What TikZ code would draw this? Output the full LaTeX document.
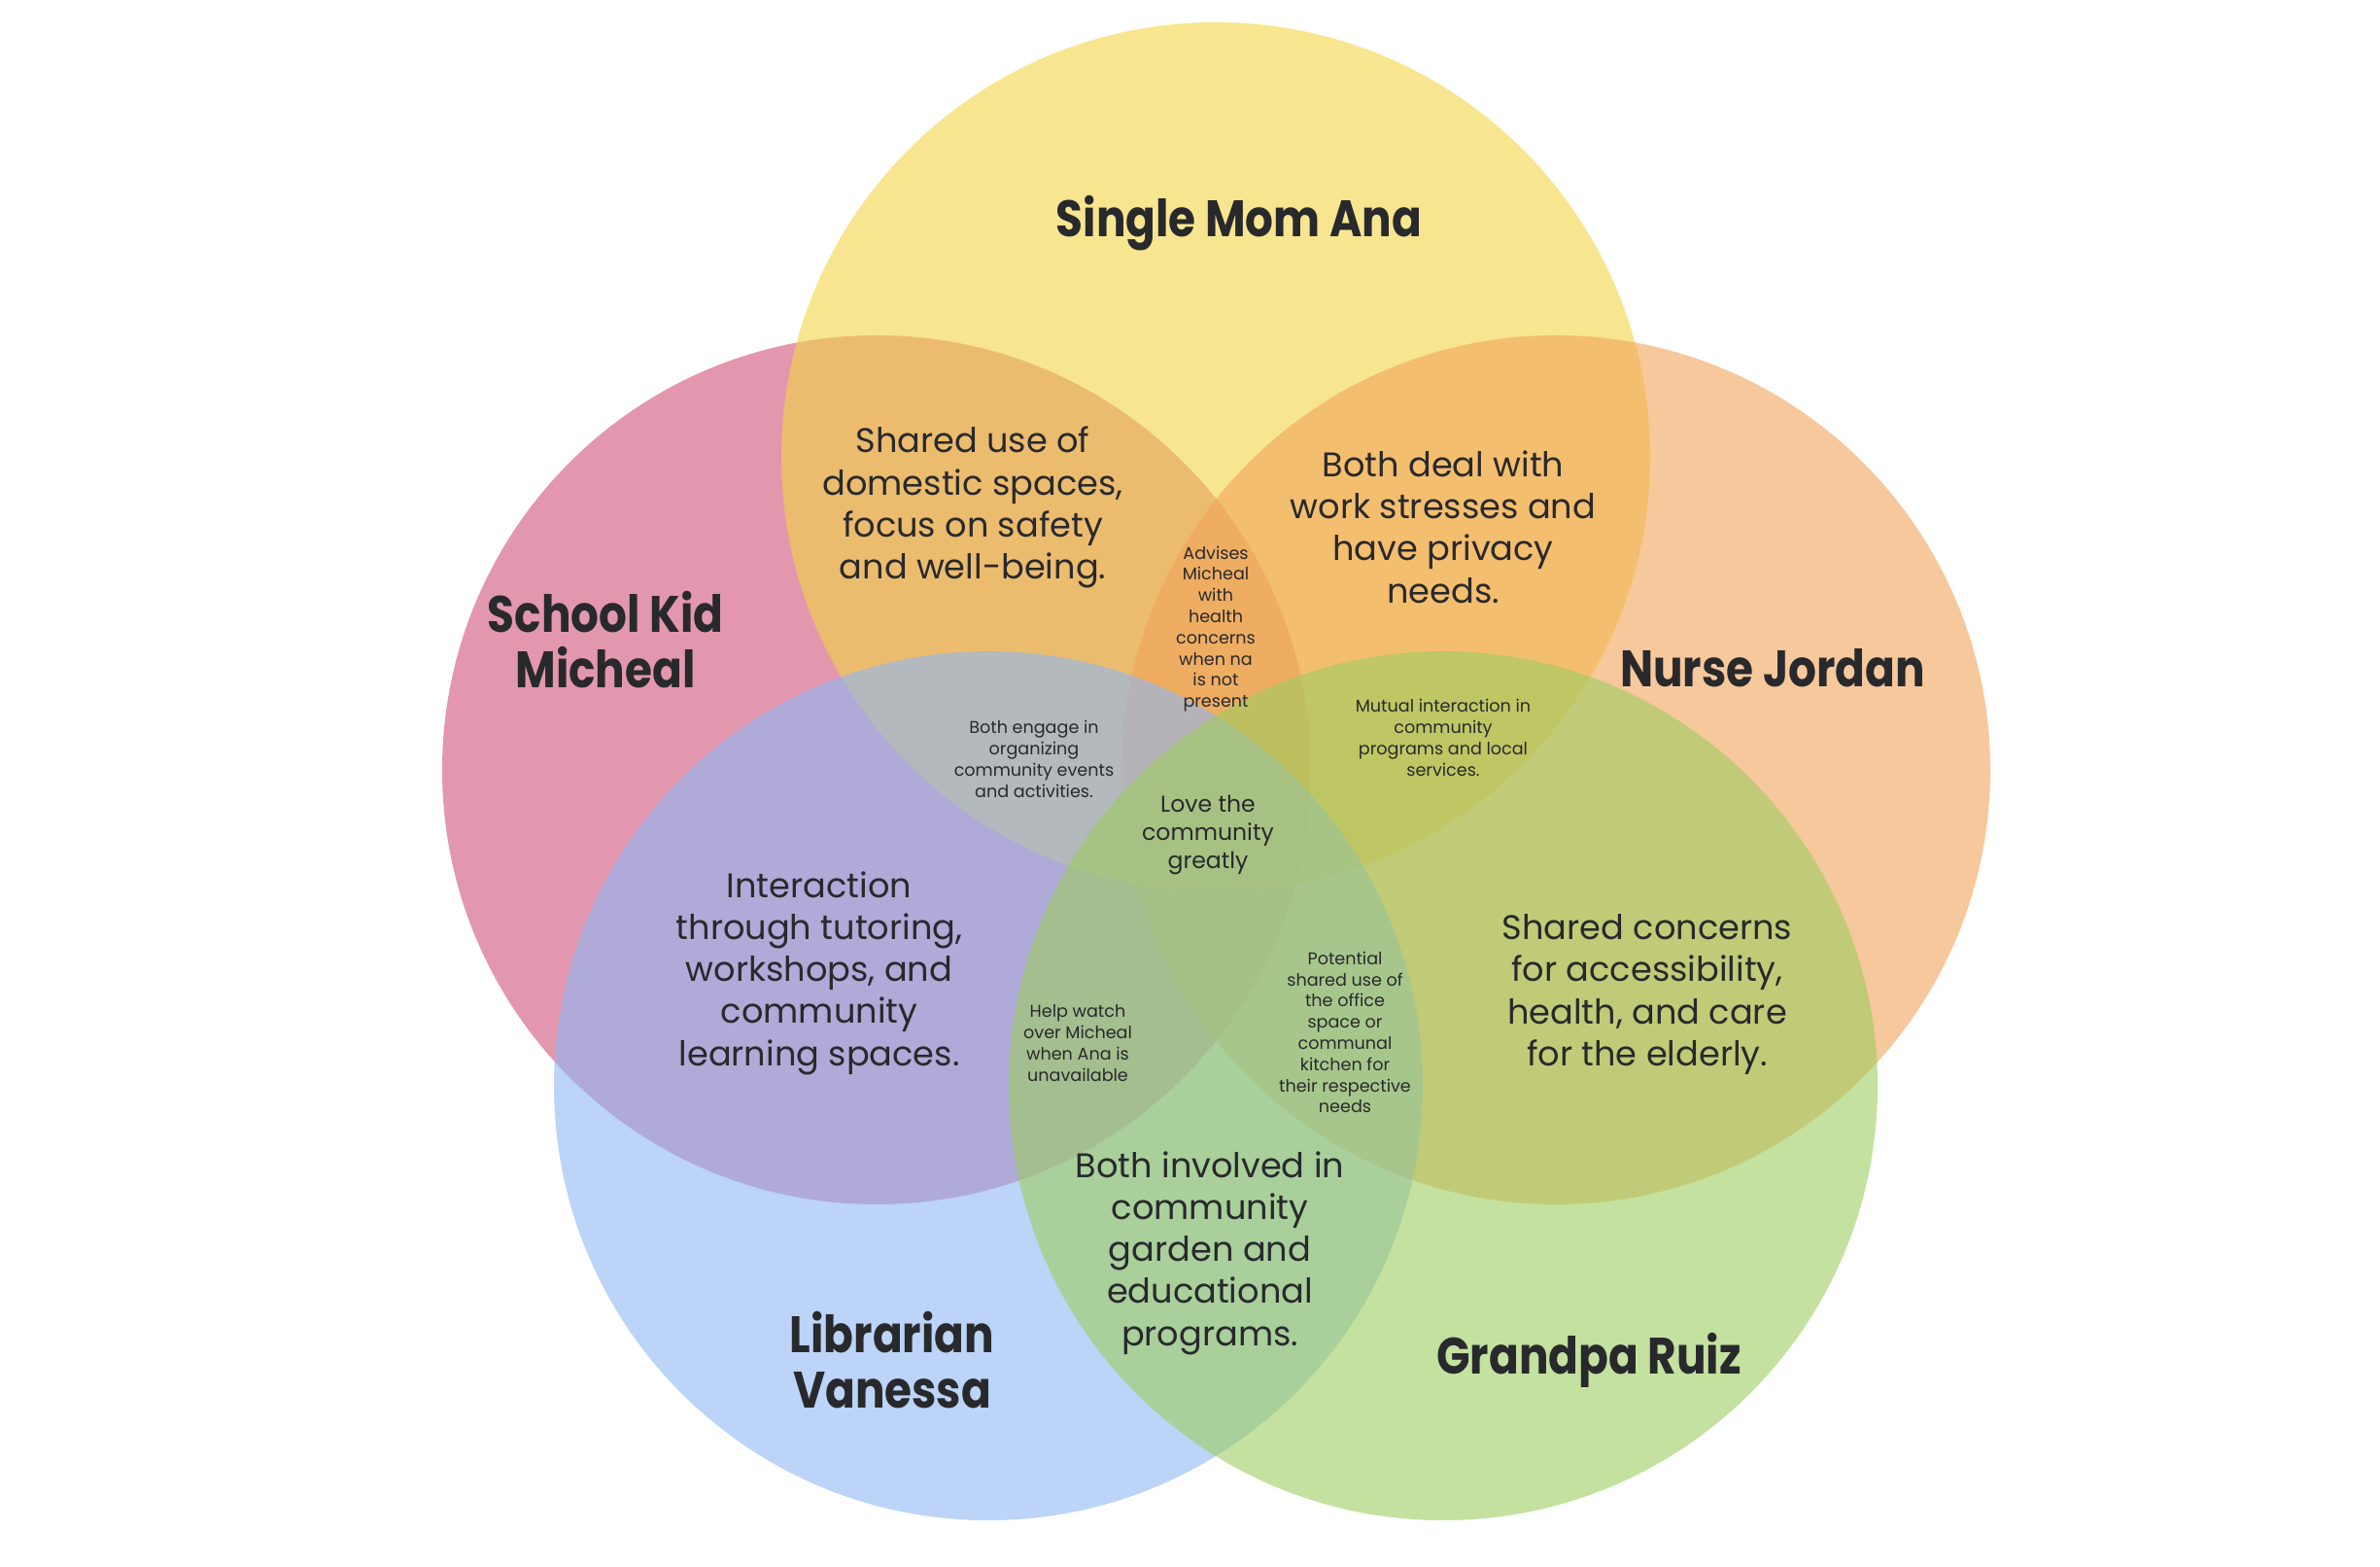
\documentclass[tikz,border=0pt]{standalone}
\usepackage{fontspec}
\setmainfont{Poppins}
\newfontfamily\namefont{Poppins}[FakeStretch=0.86]
\usepackage{tikz}
\definecolor{KidPink}{RGB}{208,82,120}
\definecolor{MomYellow}{RGB}{242,213,68}
\definecolor{NurseOrange}{RGB}{242,163,90}
\definecolor{LibBlue}{RGB}{142,183,242}
\definecolor{GrandpaGreen}{RGB}{157,205,95}
\definecolor{InkGray}{RGB}{40,41,44}

\begin{document}
\begin{tikzpicture}[
    persona/.style={circle, minimum size=8.94cm, inner sep=0pt, fill opacity=0.6},
    who/.style={InkGray, align=center, font=\namefont\fontsize{15}{16.4}\selectfont\bfseries},
    bigtxt/.style={InkGray, align=center, font=\fontsize{10}{12.3}\selectfont},
    midtxt/.style={InkGray, align=center, font=\fontsize{6.7}{8.2}\selectfont},
    smalltxt/.style={InkGray, align=center, font=\fontsize{5}{6.2}\selectfont}]
    \useasboundingbox (0,0) rectangle (24.49,16.12);
    % the five people
    \node[persona, fill=KidPink]      (kid)     at (9.02,8.20)  {};
    \node[persona, fill=MomYellow]    (mom)     at (12.51,11.42) {};
    \node[persona, fill=NurseOrange]  (nurse)   at (16.01,8.20) {};
    \node[persona, fill=LibBlue]      (lib)     at (10.17,4.95) {};
    \node[persona, fill=GrandpaGreen] (grandpa) at (14.85,4.95) {};
    % names
    \node[who] (momname)     at (12.75,13.82) {Single Mom Ana};
    \node[who] (kidname)     at (6.23,9.54)   {School Kid\\Micheal};
    \node[who] (nursename)   at (18.24,9.25)  {Nurse Jordan};
    \node[who] (libname)     at (9.18,2.13)   {Librarian\\Vanessa};
    \node[who] (grandpaname) at (16.35,2.13)  {Grandpa Ruiz};
    % overlaps
    \node[bigtxt] (kidmom) at (10.01,10.90)
        {Shared use of\\domestic spaces,\\focus on safety\\and well-being.};
    \node[bigtxt] (momnurse) at (14.85,10.70)
        {Both deal with\\work stresses and\\have privacy\\needs.};
    \node[smalltxt] (advise) at (12.51,9.65)
        {Advises\\Micheal\\with\\health\\concerns\\when na\\is not\\present};
    \node[smalltxt] (events) at (10.64,8.31)
        {Both engage in\\organizing\\community events\\and activities.};
    \node[smalltxt] (mutual) at (14.85,8.53)
        {Mutual interaction in\\community\\programs and local\\services.};
    \node[midtxt] (love) at (12.43,7.53) {Love the\\community\\greatly};
    \node[bigtxt] (kidlib) at (8.43,6.11)
        {Interaction\\through tutoring,\\workshops, and\\community\\learning spaces.};
    \node[bigtxt] (nursegrandpa) at (16.95,5.89)
        {Shared concerns\\for accessibility,\\health, and care\\for the elderly.};
    \node[smalltxt] (watch) at (11.09,5.39)
        {Help watch\\over Micheal\\when Ana is\\unavailable};
    \node[smalltxt] (office) at (13.84,5.50)
        {Potential\\shared use of\\the office\\space or\\communal\\kitchen for\\their respective\\needs};
    \node[bigtxt] (libgrandpa) at (12.45,3.23)
        {Both involved in\\community\\garden and\\educational\\programs.};
\end{tikzpicture}
\end{document}
